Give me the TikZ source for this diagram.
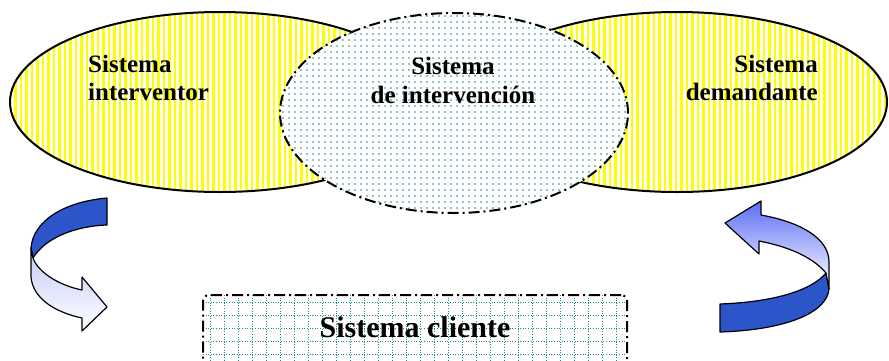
\documentclass[tikz,border=0pt]{standalone}
\usepackage{fontspec}
\setmainfont{Liberation Serif}
\usetikzlibrary{shapes.geometric}
\definecolor{stripey}{RGB}{255,255,0}
\definecolor{tealdot}{RGB}{30,140,140}
\definecolor{darkblue}{RGB}{43,85,201}
\definecolor{midblue}{RGB}{93,110,245}
\definecolor{lightblue}{RGB}{195,203,248}
\tikzset{
  lbl/.style={font=\fontsize{25}{29}\selectfont\bfseries, inner sep=0pt},
  bigell/.style={ellipse, draw=black, line width=2pt, inner sep=0pt,
    path picture={
      \foreach \i in {0,5.5,...,440}
        \draw[stripey, line width=2.2pt]
          ([xshift=\i pt]path picture bounding box.north west) --
          ([xshift=\i pt]path picture bounding box.south west);
    }},
  dotell/.style={ellipse, draw=black, line width=2pt, inner sep=0pt, fill=white,
    dash pattern=on 11pt off 4pt on 2pt off 4pt,
    path picture={
      \foreach \x in {3,9,...,350}
        \foreach \y in {3,9,...,200}
          \fill[tealdot] ([shift={(\x pt,-\y pt)}]path picture bounding box.north west) circle (0.9pt);
    }},
  gridbox/.style={rectangle, draw=black, line width=2pt, inner sep=0pt, fill=white,
    rounded corners=6pt, dash pattern=on 11pt off 4pt on 2pt off 4pt,
    path picture={
      \foreach \x in {7,21,...,430}
        \draw[tealdot, line width=1pt, dash pattern=on 1pt off 1.6pt]
          ([xshift=\x pt]path picture bounding box.north west) --
          ([xshift=\x pt]path picture bounding box.south west);
      \foreach \y in {7,20,...,80}
        \draw[tealdot, line width=1pt, dash pattern=on 1pt off 1.6pt]
          ([yshift=-\y pt]path picture bounding box.north west) --
          ([yshift=-\y pt]path picture bounding box.north east);
    }},
  arrline/.style={draw=black, line width=1.2pt, line join=round},
}
\begin{document}
\begin{tikzpicture}[x=1pt,y=-1pt]
\clip (0,0) rectangle (889,360);
\fill[white] (0,0) rectangle (889,360);

% ellipses
\node[bigell, minimum width=420pt, minimum height=180pt] (interv) at (220,102) {};
\node[bigell, minimum width=420pt, minimum height=180pt] (deman) at (677,102) {};
\node[dotell, minimum width=348pt, minimum height=200pt] (sist) at (454,113) {};

% texts
\node[lbl, anchor=base west] (t1a) at (88,72) {Sistema};
\node[lbl, anchor=base west] (t1b) at (88,100) {interventor};
\node[lbl, anchor=base] (t2a) at (453,74) {Sistema};
\node[lbl, anchor=base] (t2b) at (453,103) {de intervención};
\node[lbl, anchor=base east] (t3a) at (818,72) {Sistema};
\node[lbl, anchor=base east] (t3b) at (818,100) {demandante};

% client box
\node[gridbox, minimum width=424pt, minimum height=74pt] (cli) at (415,332) {};
\node[lbl, font=\fontsize{30}{34}\selectfont\bfseries, anchor=base] (clit) at (415,337) {Sistema cliente};

% left curved arrow
\draw[arrline, fill=darkblue] (107,198) .. controls (62,202) and (33,222) .. (31,248)
  -- (33,258) .. controls (45,238) and (75,226) .. (107,225) -- cycle;
\draw[arrline, top color=lightblue, bottom color=white]
  (31,248) -- (31,277) .. controls (33,300) and (58,313) .. (82,318)
  -- (82,331) -- (107,307) -- (82,277) -- (82,290)
  .. controls (58,285) and (38,272) .. (33,258) -- cycle;

% right curved arrow
\draw[arrline, fill=darkblue] (720,304) -- (720,332) .. controls (785,330) and (827,313) .. (829,289)
  -- (826,273) .. controls (812,290) and (775,302) .. (720,304) -- cycle;
\draw[arrline, top color=midblue, bottom color=white, shading angle=0]
  (761,215) .. controls (800,222) and (829,238) .. (829,262) -- (829,289)
  -- (826,273) .. controls (815,260) and (795,248) .. (759,241)
  -- (759,254) -- (725,223) -- (761,201) -- cycle;
\end{tikzpicture}
\end{document}
